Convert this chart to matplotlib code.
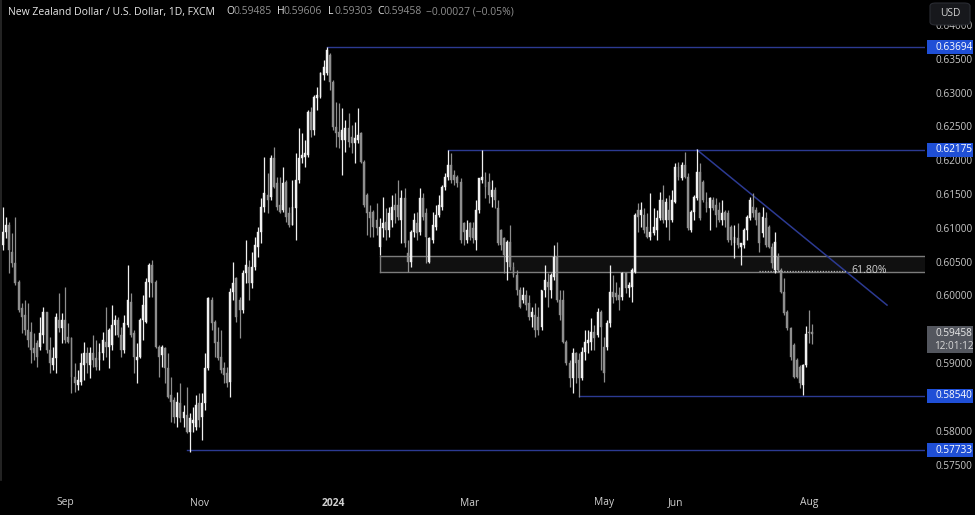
import matplotlib
matplotlib.use("Agg")
import matplotlib.pyplot as plt
import matplotlib.transforms as mtransforms
from matplotlib.patches import FancyBboxPatch, Rectangle
import pandas as pd

# ---------------- data (NZDUSD daily, FXCM) ----------------
opens = [
 .6077,.6096,.6107,.6067,.6050,.6022,.5984,.5973,.5951,.5948,.5925,.5932,.5926,.5944,.5978,.5922,.5899,.5910,.5966,.5954,
 .5966,.5941,.5939,.5882,.5870,.5874,.5899,.5917,.5899,.5917,.5910,.5907,.5917,.5933,.5926,.5929,.5959,.5966,.5944,.5922,
 .5959,.5993,.5947,.5907,.5911,.5966,.5963,.6022,.6047,.6022,.5926,.5914,.5925,.5895,.5855,.5848,.5822,.5843,.5821,.5825,
 .5800,.5814,.5808,.5843,.5822,.5843,.5895,.5996,.5963,.5933,.5911,.5895,.5888,.5874,.6007,.6028,.5996,.5981,.6035,.6044,
 .6021,.6044,.6074,.6096,.6133,.6151,.6148,.6206,.6169,.6136,.6129,.6170,.6124,.6107,.6132,.6173,.6206,.6207,.6210,.6274,
 .6247,.6294,.6296,.6328,.6331,.6358,.6318,.6251,.6244,.6232,.6232,.6250,.6237,.6228,.6232,.6243,.6200,.6151,.6126,.6126,
 .6114,.6074,.6102,.6111,.6099,.6114,.6136,.6136,.6114,.6146,.6065,.6052,.6096,.6109,.6096,.6146,.6124,.6052,.6084,.6104,
 .6121,.6133,.6163,.6177,.6195,.6180,.6177,.6170,.6109,.6084,.6109,.6102,.6084,.6129,.6173,.6173,.6170,.6148,.6158,.6132,
 .6099,.6087,.6052,.6081,.6044,.6033,.6010,.5996,.6003,.5991,.5970,.5973,.5970,.5956,.6010,.6022,.6010,.6030,.6059,.5996,
 .5996,.5933,.5902,.5880,.5917,.5907,.5880,.5919,.5932,.5933,.5948,.5944,.5978,.5926,.5926,.5962,.6007,.6006,.6003,.6000,
 .6035,.6013,.6015,.6037,.6129,.6121,.6121,.6104,.6089,.6095,.6099,.6117,.6143,.6114,.6129,.6114,.6141,.6192,.6176,.6195,
 .6177,.6099,.6126,.6146,.6185,.6170,.6141,.6132,.6143,.6136,.6129,.6114,.6126,.6124,.6104,.6080,.6087,.6074,.6077,.6099,
 .6117,.6133,.6129,.6124,.6095,.6117,.6104,.6074,.6040,.6059,.6040,.6007,.5978,.5954,.5929,.5907,.5896,.5870,.5899,.5948,
 .59485]
highs = [
 .6133,.6118,.6111,.6095,.6118,.6025,.5991,.5996,.5991,.5963,.5947,.5936,.5970,.5985,.5978,.5941,.5926,.5976,.6006,.5976,
 .6015,.5962,.5941,.5902,.5892,.5917,.5933,.5926,.5926,.5944,.5936,.5932,.5948,.5985,.5954,.5988,.5973,.5970,.5956,.5973,
 .6047,.6006,.5951,.5932,.5969,.6003,.6028,.6050,.6055,.6025,.5929,.5929,.5926,.5917,.5882,.5852,.5859,.5873,.5840,.5867,
 .5828,.5837,.5855,.5858,.5858,.5917,.6000,.6000,.5966,.5956,.5951,.5904,.5896,.6013,.6052,.6030,.6000,.6040,.6084,.6055,
 .6067,.6089,.6104,.6146,.6207,.6183,.6210,.6222,.6178,.6178,.6192,.6173,.6133,.6173,.6213,.6250,.6243,.6232,.6277,.6281,
 .6299,.6311,.6333,.6351,.6370,.6361,.6321,.6288,.6287,.6280,.6262,.6272,.6254,.6259,.6280,.6244,.6203,.6154,.6136,.6129,
 .6139,.6117,.6148,.6132,.6133,.6151,.6154,.6173,.6158,.6161,.6084,.6099,.6124,.6126,.6161,.6154,.6132,.6089,.6126,.6136,
 .6151,.6166,.6183,.6217,.6213,.6188,.6180,.6176,.6111,.6114,.6111,.6111,.6143,.6176,.6217,.6185,.6183,.6173,.6163,.6143,
 .6101,.6089,.6084,.6107,.6052,.6040,.6015,.6015,.6010,.6003,.5985,.5991,.5985,.6010,.6047,.6035,.6035,.6077,.6081,.6010,
 .6010,.5936,.5907,.5925,.5919,.5917,.5926,.5951,.5951,.5969,.5959,.5984,.5981,.5941,.5966,.6047,.6033,.6022,.6015,.6037,
 .6037,.6022,.6043,.6124,.6139,.6141,.6132,.6124,.6154,.6132,.6129,.6155,.6166,.6146,.6151,.6158,.6198,.6200,.6200,.6214,
 .6183,.6129,.6151,.6219,.6198,.6173,.6155,.6148,.6148,.6146,.6141,.6143,.6129,.6129,.6107,.6107,.6109,.6080,.6102,.6121,
 .6148,.6154,.6133,.6126,.6133,.6126,.6107,.6080,.6096,.6065,.6043,.6028,.5981,.5956,.5932,.5910,.5899,.5901,.5957,.5981,
 .59606]
lows = [
 .6070,.6087,.6035,.6044,.6018,.5978,.5947,.5944,.5926,.5902,.5907,.5896,.5922,.5932,.5917,.5888,.5892,.5888,.5948,.5932,
 .5932,.5932,.5858,.5859,.5862,.5870,.5877,.5888,.5880,.5896,.5892,.5892,.5907,.5911,.5895,.5922,.5944,.5941,.5911,.5917,
 .5956,.5941,.5888,.5873,.5910,.5936,.5962,.6000,.6000,.5925,.5882,.5896,.5873,.5851,.5815,.5814,.5807,.5815,.5808,.5799,
 .5771,.5800,.5803,.5808,.5788,.5833,.5892,.5951,.5911,.5907,.5888,.5873,.5867,.5852,.5996,.5963,.5939,.5976,.6021,.5996,
 .6013,.6040,.6059,.6080,.6126,.6124,.6143,.6161,.6129,.6124,.6126,.6111,.6104,.6107,.6084,.6169,.6198,.6192,.6207,.6237,
 .6240,.6277,.6294,.6321,.6328,.6306,.6247,.6222,.6220,.6180,.6214,.6222,.6213,.6198,.6228,.6198,.6133,.6092,.6089,.6089,
 .6092,.6062,.6089,.6084,.6089,.6104,.6109,.6114,.6080,.6074,.6037,.6044,.6089,.6084,.6092,.6114,.6050,.6050,.6080,.6099,
 .6118,.6129,.6158,.6173,.6169,.6166,.6163,.6080,.6077,.6080,.6084,.6080,.6070,.6124,.6169,.6146,.6139,.6133,.6132,.6077,
 .6070,.6035,.6025,.6040,.6030,.6003,.5984,.5991,.5981,.5966,.5956,.5941,.5944,.5951,.6000,.5985,.5999,.6025,.5993,.5966,
 .5932,.5899,.5867,.5858,.5873,.5852,.5877,.5907,.5917,.5922,.5922,.5941,.5892,.5874,.5922,.5956,.5991,.5996,.5981,.5996,
 .6006,.6000,.5993,.6035,.6096,.6104,.6095,.6087,.6084,.6092,.6084,.6114,.6109,.6104,.6084,.6111,.6139,.6173,.6173,.6176,
 .6099,.6096,.6114,.6143,.6114,.6141,.6126,.6099,.6129,.6104,.6111,.6107,.6104,.6081,.6077,.6058,.6072,.6047,.6072,.6084,
 .6114,.6118,.6107,.6067,.6089,.6074,.6072,.6043,.6035,.6037,.6006,.5973,.5951,.5907,.5880,.5880,.5865,.5855,.5896,.5932,
 .59303]
closes = [
 .6096,.6107,.6070,.6050,.6021,.5981,.5970,.5951,.5936,.5922,.5917,.5911,.5947,.5978,.5922,.5902,.5910,.5970,.5954,.5966,
 .5936,.5933,.5882,.5873,.5877,.5902,.5917,.5902,.5917,.5907,.5896,.5919,.5936,.5926,.5951,.5959,.5966,.5944,.5922,.5962,
 .5996,.5944,.5911,.5911,.5966,.5988,.6022,.6047,.6021,.5926,.5911,.5926,.5895,.5852,.5845,.5822,.5845,.5821,.5830,.5800,
 .5821,.5818,.5840,.5818,.5843,.5895,.5999,.5962,.5932,.5910,.5892,.5885,.5873,.6007,.6021,.5970,.5981,.6035,.6047,.6021,
 .6044,.6077,.6096,.6133,.6154,.6143,.6206,.6163,.6133,.6126,.6169,.6118,.6107,.6133,.6173,.6206,.6210,.6213,.6274,.6247,
 .6296,.6299,.6331,.6340,.6366,.6318,.6251,.6243,.6237,.6247,.6250,.6229,.6228,.6235,.6240,.6200,.6136,.6124,.6117,.6104,
 .6102,.6104,.6110,.6099,.6124,.6133,.6129,.6118,.6146,.6080,.6052,.6096,.6114,.6095,.6146,.6118,.6089,.6087,.6107,.6121,
 .6136,.6163,.6177,.6195,.6173,.6173,.6169,.6084,.6096,.6099,.6089,.6087,.6129,.6176,.6177,.6163,.6151,.6158,.6143,.6080,
 .6077,.6062,.6081,.6044,.6033,.6010,.5985,.6003,.5988,.5970,.5978,.5951,.5951,.6010,.6025,.6015,.6033,.6059,.5996,.5973,
 .5933,.5902,.5880,.5917,.5902,.5880,.5919,.5933,.5936,.5948,.5939,.5978,.5956,.5888,.5962,.6007,.6000,.6000,.5996,.6035,
 .6013,.6018,.6040,.6121,.6118,.6129,.6099,.6089,.6096,.6104,.6117,.6143,.6114,.6140,.6114,.6143,.6192,.6177,.6195,.6177,
 .6102,.6126,.6148,.6185,.6117,.6143,.6132,.6146,.6132,.6121,.6114,.6124,.6114,.6084,.6084,.6089,.6077,.6080,.6099,.6118,
 .6143,.6124,.6114,.6080,.6118,.6077,.6074,.6050,.6081,.6040,.6007,.5976,.5954,.5911,.5882,.5882,.5873,.5899,.5945,.5946,
 .59458]

start_date = "2023-08-04"
month_labels = ["Sep", "Nov", "2024", "Mar", "May", "Jun", "Aug"]
month_starts = ["2023-09-01", "2023-11-01", "2024-01-01", "2024-03-01", "2024-05-01", "2024-06-03", "2024-08-01"]
price_ticks = [0.575, 0.580, 0.590, 0.600, 0.605, 0.610, 0.615, 0.620, 0.625, 0.630, 0.635, 0.640]

level_values = [0.63694, 0.62175, 0.58540, 0.57733]
level_starts = ["2023-12-28", "2024-02-21", "2024-04-19", "2023-10-26"]
zone_low, zone_high, zone_start = 0.6037, 0.6061, "2024-01-22"
fib_level, fib_text = 0.6039, "61.80%"
fib_start, fib_end, fib_text_at = "2024-07-10", "2024-08-19", "2024-08-20"
trend_start = ("2024-06-12", 0.62175)
trend_end = ("2024-09-05", 0.5988)
last_price, countdown = "0.59458", "12:01:12"

header_title = "New Zealand Dollar / U.S. Dollar, 1D, FXCM"
header_ohlc = [("O", "0.59485"), ("H", "0.59606"), ("L", "0.59303"), ("C", "0.59458")]
header_change = "\u22120.00027 (\u22120.05%)"

# ---------------- setup ----------------
n = len(closes)
future = pd.bdate_range(start_date, periods=400)

def xi(d):
    return int(future.get_indexer([pd.Timestamp(d)])[0])

W, H = 975, 515
fig = plt.figure(figsize=(W / 100, H / 100), dpi=100, facecolor="black")
ax = fig.add_axes([0, 35 / H, 925 / W, 480 / H])
ax.set_facecolor("black")
XMAX = 296.2
ax.set_xlim(-0.96, XMAX)
ax.set_ylim(0.57293, 0.64393)
ax.axis("off")

FONT = ["Open Sans", "DejaVu Sans"]
UP, DOWN = "#f0f0f0", "#8e8e8e"
LINE = "#2c3a92"

# candles
for i in range(n):
    o, h, l, c = opens[i], highs[i], lows[i], closes[i]
    col = UP if c >= o else DOWN
    ax.vlines(i, l, h, color=col, lw=0.9, zorder=3)
    bottom = min(o, c)
    height = max(abs(c - o), 0.00008)
    ax.bar(i, height, bottom=bottom, width=0.62, color=col, edgecolor=col, lw=0.3, zorder=4)

# zone rectangle
zx0 = xi(zone_start)
ax.add_patch(Rectangle((zx0, zone_low), XMAX - zx0, zone_high - zone_low,
                       facecolor="#101010", edgecolor="none", zorder=1))
for yv in (zone_low, zone_high):
    ax.plot([zx0, XMAX], [yv, yv], color="#7c7c7c", lw=1.0, zorder=2)
ax.plot([zx0, zx0], [zone_low, zone_high], color="#7c7c7c", lw=1.0, zorder=2)

# fib dotted line + label
ax.plot([xi(fib_start), xi(fib_end)], [fib_level, fib_level], color="#b0b0b0",
        lw=0.9, ls=(0, (1, 1.2)), zorder=5)
ax.text(xi(fib_text_at) + 0.5, fib_level, fib_text, color="#d0d0d0", fontsize=7.6,
        family=FONT, va="center", ha="left", zorder=6)

# horizontal levels
for v, s in zip(level_values, level_starts):
    ax.plot([xi(s), XMAX], [v, v], color=LINE, lw=1.0, zorder=2)

# trendline
ax.plot([xi(trend_start[0]), xi(trend_end[0])], [trend_start[1], trend_end[1]],
        color=LINE, lw=1.1, zorder=2)

# ---------------- price axis ----------------
ytr = mtransforms.blended_transform_factory(fig.transFigure, ax.transData)
for p in price_ticks:
    fig.text(936 / W, p, f"{p:.5f}", transform=ytr, color="#c8c8c8", fontsize=7.2,
             family=FONT, va="center", ha="left", zorder=5)

def yfig(v):
    fig.canvas.draw_idle()
    return ax.transData.transform((0, v))[1] / H

for v in level_values:
    y_fig = yfig(v)
    fig.patches.append(Rectangle((927 / W, y_fig - 7 / H), 46 / W, 14 / H,
                                 transform=fig.transFigure, facecolor="#1f4fd6",
                                 edgecolor="none", zorder=6))
    fig.text(936 / W, y_fig, f"{v:.5f}", color="#ffffff", fontsize=7.2, family=FONT,
             va="center", ha="left", zorder=7)

# current price box
yc = yfig(float(last_price))
fig.patches.append(Rectangle((927 / W, yc - 19 / H), 46 / W, 27 / H, transform=fig.transFigure,
                             facecolor="#53565e", edgecolor="none", zorder=6))
fig.text(936 / W, yc, last_price, color="#e8e8e8", fontsize=7.2, family=FONT,
         va="center", ha="left", zorder=7)
fig.text(934 / W, yc - 13 / H, countdown, color="#d8d8d8", fontsize=7.2, family=FONT,
         va="center", ha="left", zorder=7)

# USD button
fig.patches.append(FancyBboxPatch((930 / W, 1 - 25 / H), 40 / W, 22 / H,
                                  boxstyle="round,pad=0,rounding_size=0.006",
                                  transform=fig.transFigure, facecolor="#17181c",
                                  edgecolor="#2a2c33", lw=0.8, zorder=8))
fig.text(950 / W, 1 - 13.5 / H, "USD", color="#d0d0d0", fontsize=7.4, family=FONT,
         ha="center", va="center", zorder=9)

# left border
fig.add_artist(plt.Line2D([1 / W, 1 / W], [35 / H, 1], color="#2b2b2b", lw=1.2))

# ---------------- time axis ----------------
xtr = mtransforms.blended_transform_factory(ax.transData, fig.transFigure)
for lab, d in zip(month_labels, month_starts):
    ax.text(xi(d), 1 - 503 / H, lab, transform=xtr, color="#d0d0d0", fontsize=7.4,
            family=FONT, ha="center", va="center",
            fontweight="bold" if lab == "2024" else "normal", clip_on=False)

# ---------------- header ----------------
hy = 1 - 12 / H
HF = 7.5
fig.text(8 / W, hy, header_title, color="#e8e8e8", fontsize=HF, family=FONT, va="center")
xs = [226.5, 277.5, 328, 377]
for (k, val), x0 in zip(header_ohlc, xs):
    fig.text(x0 / W, hy, k, color="#e8e8e8", fontsize=HF, family=FONT, va="center")
    fig.text((x0 + 6.5) / W, hy, val, color="#8f8f8f", fontsize=HF, family=FONT, va="center")
fig.text(426 / W, hy, header_change, color="#8f8f8f", fontsize=HF, family=FONT, va="center")

fig.savefig("out.png", dpi=100, facecolor="black")
